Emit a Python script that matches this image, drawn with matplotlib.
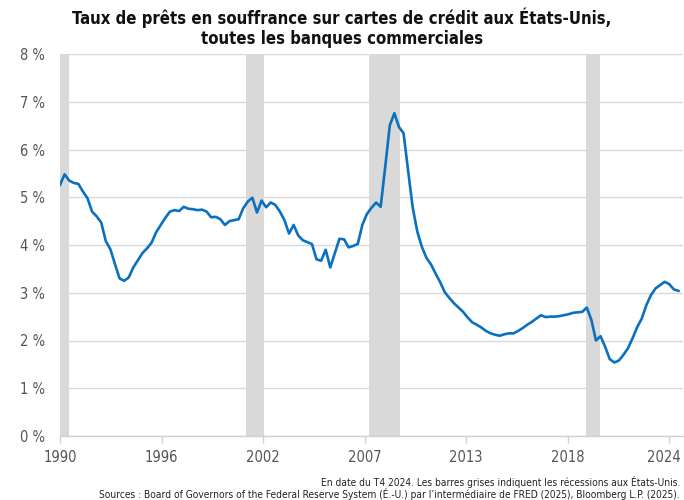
import numpy as np
import matplotlib
matplotlib.use("Agg")
import matplotlib.pyplot as plt
import matplotlib.font_manager as fm
from matplotlib.transforms import ScaledTranslation

# ---------------- data (quarterly, 1991 T1 .. 2024 T4) ----------------
rate = [
    5.26, 5.48, 5.35, 5.30, 5.28, 5.12, 4.98, 4.70, 4.60, 4.47,
    4.08, 3.91, 3.60, 3.30, 3.25, 3.32, 3.53, 3.68, 3.83, 3.93,
    4.05, 4.27, 4.42, 4.57, 4.70, 4.73, 4.71, 4.80, 4.76, 4.75,
    4.73, 4.74, 4.70, 4.58, 4.59, 4.54, 4.42, 4.50, 4.52, 4.54,
    4.77, 4.91, 4.99, 4.68, 4.93, 4.79, 4.89, 4.84, 4.70, 4.52,
    4.24, 4.42, 4.20, 4.10, 4.06, 4.02, 3.70, 3.67, 3.90, 3.53,
    3.83, 4.13, 4.12, 3.95, 3.98, 4.02, 4.42, 4.65, 4.78, 4.89,
    4.80, 5.64, 6.51, 6.76, 6.47, 6.34, 5.55, 4.78, 4.28, 3.96,
    3.73, 3.59, 3.40, 3.22, 3.01, 2.89, 2.78, 2.69, 2.60, 2.48,
    2.38, 2.33, 2.27, 2.20, 2.15, 2.12, 2.10, 2.13, 2.15, 2.15,
    2.20, 2.26, 2.33, 2.39, 2.46, 2.53, 2.49, 2.50, 2.50, 2.51,
    2.53, 2.55, 2.58, 2.59, 2.60, 2.69, 2.43, 2.00, 2.09, 1.87,
    1.61, 1.54, 1.58, 1.70, 1.84, 2.05, 2.28, 2.46, 2.74, 2.95,
    3.09, 3.16, 3.23, 3.18, 3.07, 3.04,
]
# recession spans, in quarter index units (start, end)
recessions = [(0.0, 1.97), (40.6, 44.5), (67.5, 74.3), (114.8, 117.9)]
x_tick_labels = ["1990", "1996", "2002", "2007", "2013", "2018", "2024"]
y_ticks = [0, 1, 2, 3, 4, 5, 6, 7, 8]

title = "Taux de prêts en souffrance sur cartes de crédit aux États-Unis,\ntoutes les banques commerciales"
note1 = "En date du T4 2024. Les barres grises indiquent les récessions aux États-Unis."
note2 = "Sources : Board of Governors of the Federal Reserve System (É.-U.) par l’intermédiaire de FRED (2025), Bloomberg L.P. (2025)."

# ---------------- font choice (narrow if available) ----------------
names = {f.name for f in fm.fontManager.ttflist}
cond = [f for f in fm.fontManager.ttflist
        if f.name == "DejaVu Sans" and "Condensed" in f.fname]
if "Liberation Sans Narrow" in names:
    FONT = "Liberation Sans Narrow"
    STRETCH = "normal"
elif cond:
    FONT = "DejaVu Sans"
    STRETCH = "condensed"
else:
    FONT = "Liberation Sans"
    STRETCH = "normal"
plt.rcParams["font.family"] = [FONT, "DejaVu Sans"]
plt.rcParams["font.stretch"] = STRETCH

# ---------------- figure ----------------
fig = plt.figure(figsize=(6.84, 5.0), dpi=100)
ax = fig.add_axes([60 / 684, 64 / 500, 623 / 684, 382 / 500])

x = np.arange(len(rate))
for a, b in recessions:
    ax.axvspan(a, b, color="#d9d9d9", lw=0, zorder=1)

ax.plot(x, rate, color="#0a70c0", lw=1.9, zorder=3, solid_joinstyle="round")

ax.set_xlim(0, 136)
ax.set_ylim(0, 8)
ax.set_yticks(y_ticks)
ax.set_yticklabels([f"{v} %" for v in y_ticks])
tick_pos = np.linspace(0, 133, len(x_tick_labels))
ax.set_xticks(tick_pos)
ax.set_xticklabels(x_tick_labels)

ax.grid(axis="y", color="#d9d9d9", lw=1.0, zorder=0)
ax.set_axisbelow(True)
for s in ("top", "right", "left"):
    ax.spines[s].set_visible(False)
ax.spines["bottom"].set_color("#d0d0d0")
ax.spines["bottom"].set_linewidth(1.0)
ax.spines["bottom"].set_zorder(4)
ax.tick_params(axis="y", length=0, pad=11, labelsize=10.5, labelcolor="#555555")
ax.tick_params(axis="x", length=5, width=1, color="#d0d0d0", pad=5,
               labelsize=10.5, labelcolor="#555555")

last = ax.get_xticklabels()[-1]
last.set_transform(last.get_transform() + ScaledTranslation(-4 / 72, 0, fig.dpi_scale_trans))

fig.text(0.5, 0.985, title, ha="center", va="top", fontsize=12,
         fontweight="bold", color="#111111", linespacing=1.15)
fig.text(0.994, 0.036, note1, ha="right", va="center", fontsize=7.3, color="#222222")
fig.text(0.994, 0.012, note2, ha="right", va="center", fontsize=7.3, color="#222222")

fig.savefig("out.png", dpi=100)
